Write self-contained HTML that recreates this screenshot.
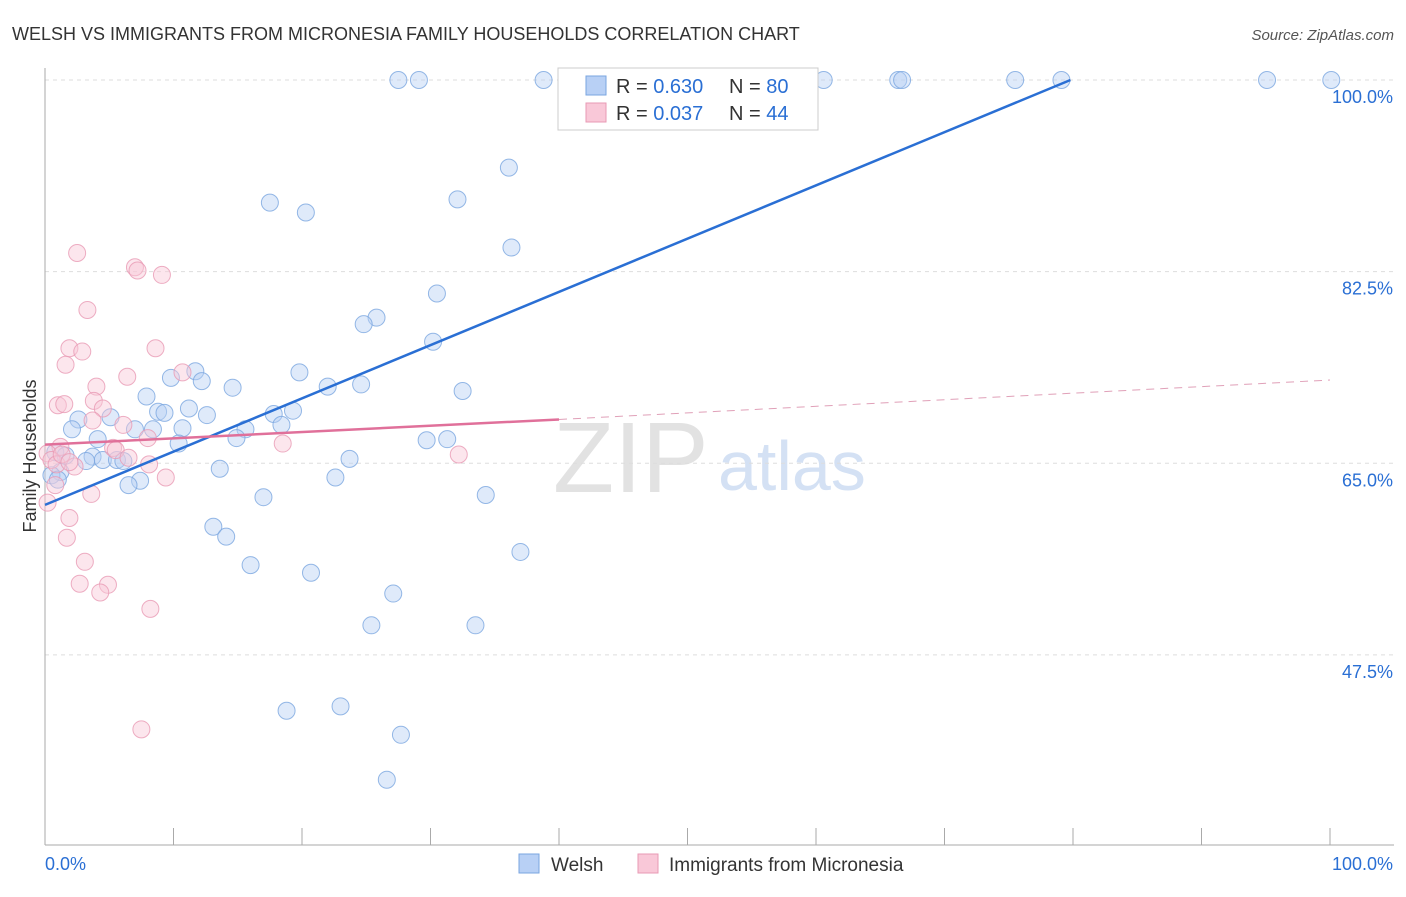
<!DOCTYPE html>
<html><head><meta charset="utf-8"><style>
body{margin:0;background:#fff;font-family:"Liberation Sans",sans-serif}
svg text{font-family:"Liberation Sans",sans-serif}
</style></head><body>
<svg id="c" width="1406" height="892">
<text x="12" y="40" font-size="18" fill="#333">WELSH VS IMMIGRANTS FROM MICRONESIA FAMILY HOUSEHOLDS CORRELATION CHART</text>
<text x="1394" y="40" font-size="15" fill="#555" font-style="italic" text-anchor="end">Source: ZipAtlas.com</text>
<text x="36" y="456" font-size="18" fill="#333" transform="rotate(-90 36 456)" text-anchor="middle">Family Households</text>
<text x="553" y="492" font-size="100" fill="#e2e2e2" font-family="Liberation Serif">ZIP</text>
<text x="718" y="490" font-size="70" fill="#d4e1f4">atlas</text>
<g id="grid"></g><g id="axes"></g><g id="pts"></g><g id="lines"></g>
<g>
<rect x="558" y="68" width="260" height="62" fill="#fff" stroke="#ccc"/>
<rect x="586" y="76" width="20" height="19" fill="#b8d0f5" stroke="#7aa6e0"/>
<rect x="586" y="103" width="20" height="19" fill="#f9c8d8" stroke="#e89ab4"/>
<text x="616" y="93" font-size="20" fill="#333">R = <tspan fill="#2a6fd4">0.630</tspan></text>
<text x="729" y="93" font-size="20" fill="#333">N = <tspan fill="#2a6fd4">80</tspan></text>
<text x="616" y="120" font-size="20" fill="#333">R = <tspan fill="#2a6fd4">0.037</tspan></text>
<text x="729" y="120" font-size="20" fill="#333">N = <tspan fill="#2a6fd4">44</tspan></text>
</g>
<g>
<rect x="519" y="854" width="20" height="19" fill="#b8d0f5" stroke="#7aa6e0"/>
<text x="551" y="871" font-size="19" fill="#333">Welsh</text>
<rect x="638" y="854" width="20" height="19" fill="#f9c8d8" stroke="#e89ab4"/>
<text x="669" y="871" font-size="19" fill="#333">Immigrants from Micronesia</text>
</g>
<text x="45" y="870" font-size="18" fill="#2a6fd4">0.0%</text>
<text x="1393" y="870" font-size="18" fill="#2a6fd4" text-anchor="end">100.0%</text>
</svg>
<script>
const yTicks=[100,82.5,65,47.5];
const yTickLabels=["100.0%","82.5%","65.0%","47.5%"];
const bluePx=[[398,80],[419,80],[543,80],[575,80],[632,80],[657,80],[741,80],[824,80],[898,80],[902,80],[1015,80],[1061,80],[1267,80],[1331,80],[509,168],[457,199],[270,203],[306,213],[512,247],[437,293],[377,318],[364,324],[433,342],[300,372],[195,371],[171,378],[202,381],[328,387],[361,384],[232,388],[462,391],[146,397],[189,408],[158,412],[165,413],[293,411],[274,414],[207,415],[110,417],[79,419],[72,429],[135,429],[183,428],[153,429],[245,429],[282,425],[179,443],[237,438],[98,439],[427,440],[447,439],[55,452],[66,456],[93,457],[103,460],[86,461],[117,460],[123,461],[349,459],[220,469],[60,472],[52,475],[58,480],[335,478],[140,481],[128,485],[263,497],[486,495],[213,527],[226,537],[521,552],[250,565],[311,573],[393,594],[371,625],[475,625],[287,711],[341,706],[401,735],[387,780]];
const pinkPx=[[77,253],[135,267],[137,271],[162,275],[87,310],[70,348],[82,352],[155,348],[66,365],[127,377],[183,372],[97,387],[94,401],[58,405],[64,404],[103,409],[93,421],[124,425],[148,438],[283,443],[113,448],[116,450],[60,447],[128,458],[149,464],[166,477],[459,454],[48,453],[52,460],[75,466],[55,485],[91,494],[47,503],[69,518],[67,538],[85,562],[80,584],[108,585],[100,592],[150,609],[141,729],[56,464],[62,455],[70,462]];
const welshX=bluePx.map(p=>+((p[0]-45)/12.85).toFixed(1));
const welshY=bluePx.map(p=>+(100-(p[1]-80)/10.95).toFixed(1));
const microX=pinkPx.map(p=>+((p[0]-45)/12.85).toFixed(1));
const microY=pinkPx.map(p=>+(100-(p[1]-80)/10.95).toFixed(1));
const welshTrend=[[0,61.2],[79.8,100]];
const microTrend=[[0,66.7],[40,69.0],[100,72.6]];
const X=v=>45+v*12.85, Y=v=>80+(100-v)*10.95;
const NS="http://www.w3.org/2000/svg";
function mk(t,a,p){const e=document.createElementNS(NS,t);for(const k in a)e.setAttribute(k,a[k]);document.getElementById(p).appendChild(e);return e;}
yTicks.forEach((t,i)=>{
 const l=mk('line',{x1:45,x2:1394,y1:Y(t),y2:Y(t),stroke:'#ddd','stroke-dasharray':'4,4'},'grid');
 
 
 const tx=mk('text',{x:1393,y:Y(t)+23,'font-size':18,fill:'#2a6fd4','text-anchor':'end'},'grid');
 tx.textContent=yTickLabels[i];
 
 
});
const a1=mk('line',{x1:45,x2:45,y1:68,y2:845,stroke:'#aaa'},'axes');


const a2=mk('line',{x1:45,x2:1394,y1:845,y2:845,stroke:'#aaa'},'axes');


for(let i=0;i<=10;i++){const t=mk('line',{x1:X(i*10),x2:X(i*10),y1:828,y2:845,stroke:'#aaa'},'axes');
 
 }
function pts(xs,ys,f,s,n){xs.forEach((x,i)=>{const c=mk('circle',{cx:X(x),cy:Y(ys[i]),r:8.5,fill:f,'fill-opacity':0.45,stroke:s,'stroke-opacity':0.8},'pts');
 
 });}
pts(welshX,welshY,'#b8d0f5','#7aa6e0','welsh-point');
pts(microX,microY,'#f9c8d8','#e89ab4','micronesia-point');
const b=mk('line',{x1:X(welshTrend[0][0]),y1:Y(welshTrend[0][1]),x2:X(welshTrend[1][0]),y2:Y(welshTrend[1][1]),stroke:'#2a6fd4','stroke-width':2.5},'lines');


const p1=mk('line',{x1:X(microTrend[0][0]),y1:Y(microTrend[0][1]),x2:X(microTrend[1][0]),y2:Y(microTrend[1][1]),stroke:'#e0709a','stroke-width':2.5},'lines');


const p2=mk('line',{x1:X(microTrend[1][0]),y1:Y(microTrend[1][1]),x2:X(microTrend[2][0]),y2:Y(microTrend[2][1]),stroke:'#e0a0b8','stroke-width':1,'stroke-dasharray':'8,6'},'lines');


</script>
</body></html>
